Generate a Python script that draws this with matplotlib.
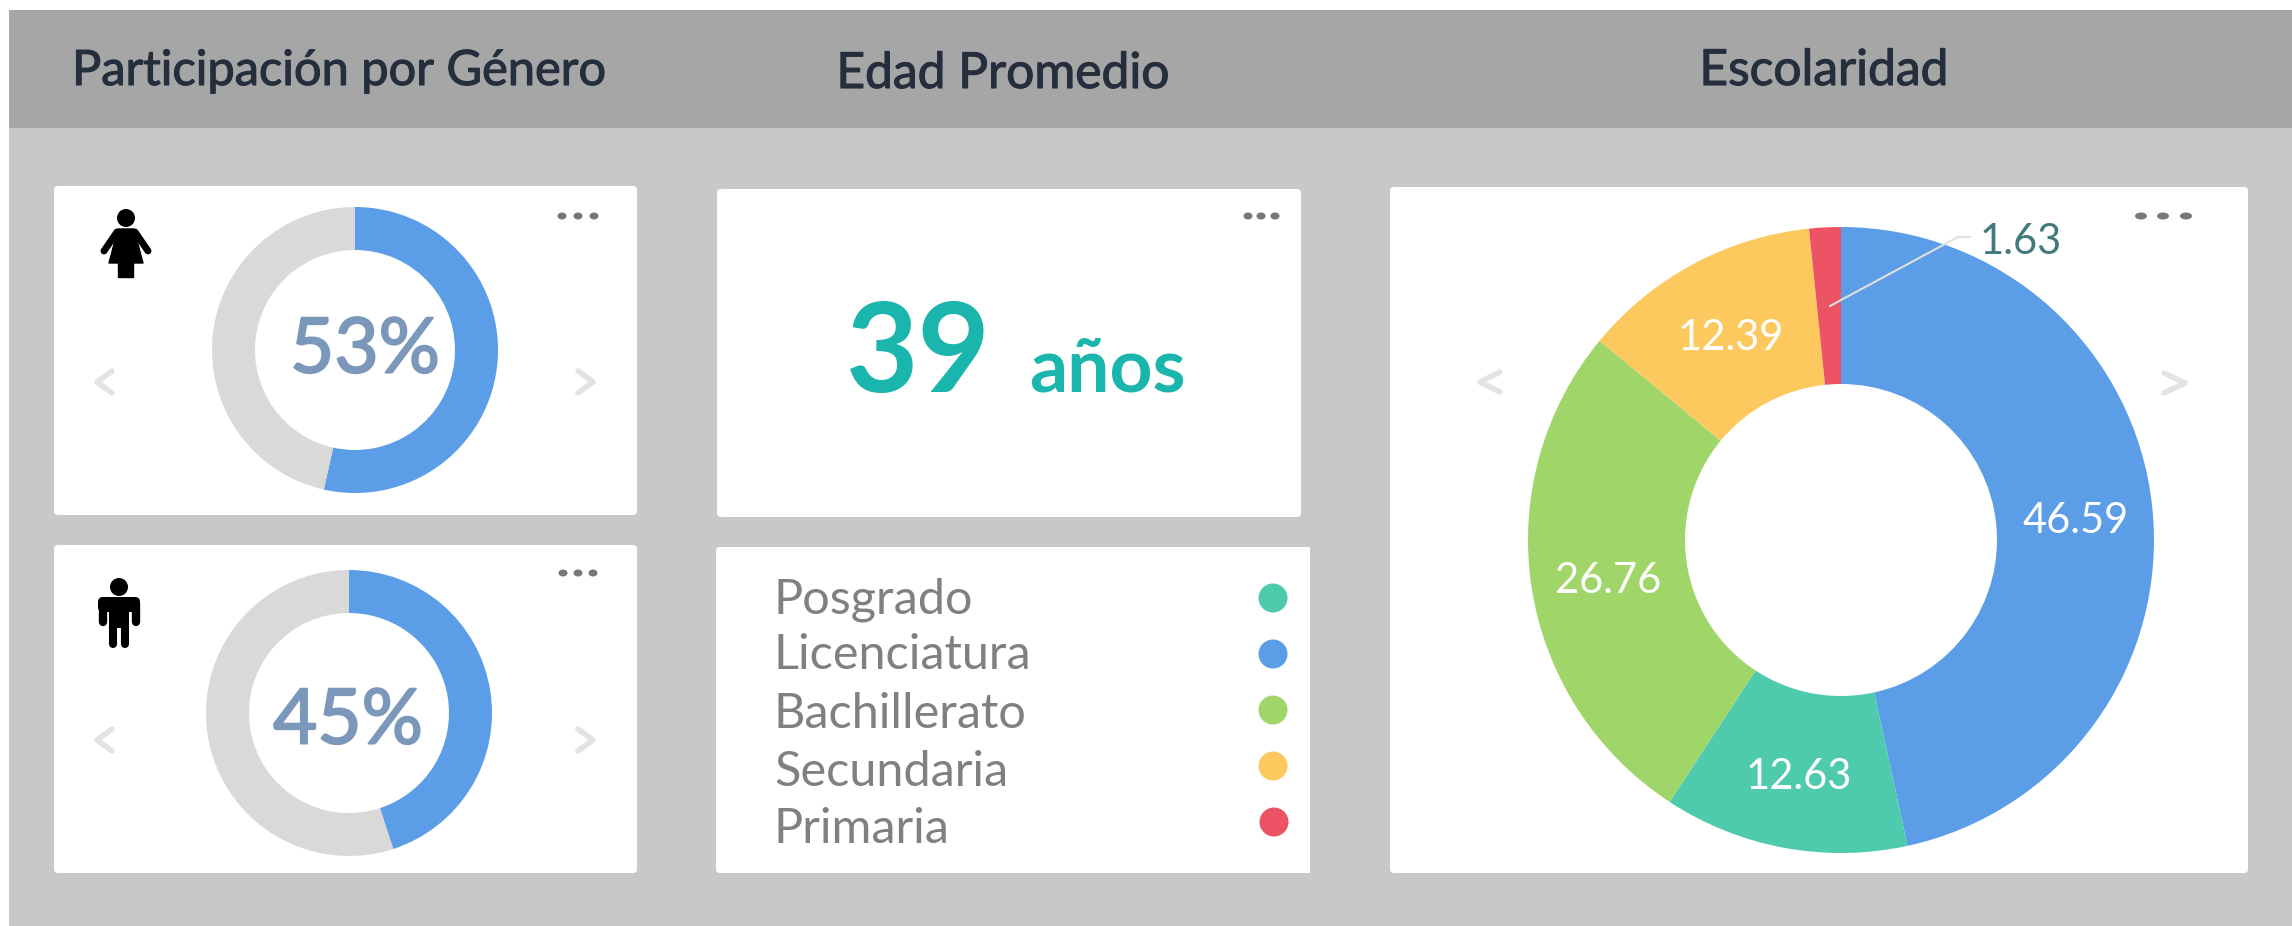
import matplotlib
matplotlib.use("Agg")
import matplotlib.pyplot as plt
import matplotlib.patheffects as pe
from matplotlib.patches import FancyBboxPatch, Rectangle, Ellipse, Circle, Polygon

plt.rcParams['font.family'] = ['Lato', 'DejaVu Sans']

# Donnees
titulos = ["Participación por Género", "Edad Promedio", "Escolaridad"]
mujeres = [53.5, 46.5]
mujeres_txt = "53%"
hombres = [45, 55]
hombres_txt = "45%"
edad = "39"
edad_unidad = "años"
niveles = ["Posgrado", "Licenciatura", "Bachillerato", "Secundaria", "Primaria"]
niveles_colores = ["#4dcbac", "#5b9de6", "#a0d56a", "#fdc95f", "#ec5364"]
esc_valores = [46.59, 12.63, 26.76, 12.39, 1.63]
esc_colores = ["#5b9de6", "#4dcbac", "#a0d56a", "#fdc95f", "#ec5364"]

AZUL = "#5b9de6"
GRIS = "#d9d9d9"
CHEVRON = "#e3e3e3"
PUNTOS = "#777777"

fig = plt.figure(figsize=(22.92, 9.26), dpi=100, facecolor="white")
ax = fig.add_axes([0, 0, 1, 1])


def gras(col, lw):
    # epaissit un peu le texte, Lato regular est plus fin que la police d'origine
    return [pe.withStroke(linewidth=lw, foreground=col)]


def carte(x0, y0, x1, y1):
    ax.add_patch(FancyBboxPatch((x0 + 4, y0 + 4), x1 - x0 - 8, y1 - y0 - 8,
                                boxstyle="round,pad=4,rounding_size=4",
                                fc="white", ec="none", zorder=1))


def dona(valores, colores, cx, cy, r, ancho):
    # axe y inverse : startangle -90 et counterclock donnent le sens horaire depuis le haut
    ax.pie(valores, colors=colores, center=(cx, cy), radius=r, startangle=-90,
           counterclock=True, wedgeprops=dict(width=ancho, linewidth=0))


def puntos(xs, y, rx, ry):
    for x in xs:
        ax.add_patch(Ellipse((x, y), rx * 2, ry * 2, fc=PUNTOS, ec="none", zorder=3))


def chevron(x_base, x_tip, y, h=11):
    ax.plot([x_base, x_tip, x_base], [y - h, y, y + h], color=CHEVRON, lw=4,
            solid_capstyle="round", solid_joinstyle="round", zorder=3)


def mujer():
    ax.add_patch(Circle((126, 218), 9, fc="black", ec="none", zorder=3))
    ax.add_patch(Polygon([(118, 229), (134, 229), (143, 263), (109, 263)], fc="black", ec="black", lw=1, joinstyle="round", zorder=3))
    ax.add_patch(Rectangle((118, 260), 15, 17, fc="black", ec="black", lw=1, zorder=3))
    ax.plot([117, 104], [232, 251], color="black", lw=5, solid_capstyle="round", zorder=3)
    ax.plot([135, 148], [232, 251], color="black", lw=5, solid_capstyle="round", zorder=3)


def hombre():
    ax.add_patch(Circle((119, 587), 9, fc="black", ec="none", zorder=3))
    ax.add_patch(FancyBboxPatch((103, 602), 32, 5, boxstyle="round,pad=5,rounding_size=5", fc="black", ec="none", zorder=3))
    ax.add_patch(Rectangle((109, 600), 20, 28, fc="black", ec="none", zorder=3))
    for x in [102.5, 135.5]:
        ax.plot([x, x], [604, 622], color="black", lw=6, solid_capstyle="round", zorder=3)
    for x in [113, 125]:
        ax.plot([x, x], [620, 644], color="black", lw=5.8, solid_capstyle="round", zorder=3)


# Fond
ax.add_patch(Rectangle((9, 10), 2292, 926, fc="#c8c8c8", ec="none", zorder=0))
ax.add_patch(Rectangle((9, 10), 2292, 118, fc="#a6a6a6", ec="none", zorder=0.5))

# Titres
ax.text(72, 71, titulos[0], fontsize=35.1, color="#252e3d", ha="left", va="center", zorder=4, path_effects=gras("#252e3d", 0.8))
ax.text(1003, 74, titulos[1], fontsize=35.8, color="#252e3d", ha="center", va="center", zorder=4, path_effects=gras("#252e3d", 0.8))
ax.text(1824, 71, titulos[2], fontsize=35.8, color="#252e3d", ha="center", va="center", zorder=4, path_effects=gras("#252e3d", 0.8))

# Cartes
carte(54, 186, 637, 515)
carte(54, 545, 637, 873)
carte(717, 189, 1301, 517)
carte(716, 547, 1300, 873)
ax.add_patch(Rectangle((1290, 547), 20, 326, fc="white", ec="none", zorder=1))
carte(1390, 187, 2248, 873)

# Anneaux genre
dona(mujeres, [AZUL, GRIS], 355, 350, 143, 43)
dona(hombres, [AZUL, GRIS], 349, 713, 143, 43)
ax.text(365, 351, mujeres_txt, fontsize=55, color="#7b98bb", ha="center", va="center", zorder=4, path_effects=gras("#7b98bb", 1.5))
ax.text(348, 722, hombres_txt, fontsize=55, color="#7b98bb", ha="center", va="center", zorder=4, path_effects=gras("#7b98bb", 1.5))

# Anneau scolarite
dona(esc_valores, esc_colores, 1841, 540, 313, 157)
ax.text(2076, 521, f"{esc_valores[0]:.2f}", fontsize=30, color="white", ha="center", va="center", zorder=4)
ax.text(1799, 777, f"{esc_valores[1]:.2f}", fontsize=30, color="white", ha="center", va="center", zorder=4)
ax.text(1608, 581, f"{esc_valores[2]:.2f}", fontsize=30, color="white", ha="center", va="center", zorder=4)
ax.text(1731, 338, f"{esc_valores[3]:.2f}", fontsize=30, color="white", ha="center", va="center", zorder=4)
ax.text(1980, 242, f"{esc_valores[4]:.2f}", fontsize=30, color="#42797a", ha="left", va="center", zorder=4)
ax.plot([1830, 1958, 1970], [306, 237, 237], color="#e0e0e0", lw=1.5, zorder=3)

# Edad
ax.text(846, 392, edad, fontsize=90, fontweight="bold", color="#1ab5ac", ha="left", va="baseline", zorder=4)
ax.text(1029, 391, edad_unidad, fontsize=54, fontweight="bold", color="#1ab5ac", ha="left", va="baseline", zorder=4)

# Legende
legend_base = [613, 669, 728, 786, 843]
legend_punto_x = [1273, 1273, 1273, 1273, 1274]
legend_punto_y = [598, 654, 710, 766, 822]
for nom, col, yb, px, py in zip(niveles, niveles_colores, legend_base, legend_punto_x, legend_punto_y):
    ax.text(774, yb, nom, fontsize=35, color="#808080", ha="left", va="baseline", zorder=4)
    ax.add_patch(Ellipse((px, py), 29, 29, fc=col, ec="none", zorder=3))

# Menus et fleches
puntos([562, 578, 594], 216, 4.5, 3.5)
puntos([563, 578, 593], 573, 4.5, 3.5)
puntos([1248, 1261, 1275], 216, 4.5, 3.5)
puntos([2141, 2163, 2186], 216, 6, 3.5)
chevron(112, 97, 382)
chevron(578, 593, 382)
chevron(112, 97, 740)
chevron(578, 593, 740)
chevron(1500, 1480, 382, 10)
chevron(2164, 2185, 383, 10)

mujer()
hombre()

ax.set_xlim(0, 2292)
ax.set_ylim(926, 0)
ax.set_aspect("auto")
ax.axis("off")

fig.savefig("out.png", dpi=100, facecolor="white")
